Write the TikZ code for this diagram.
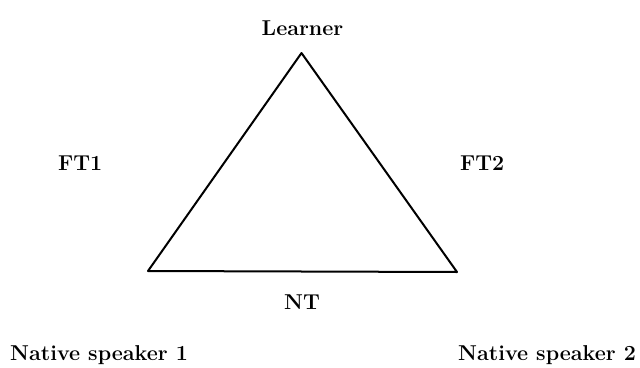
\documentclass[tikz,border=0pt]{standalone}
\begin{document}
\begin{tikzpicture}[x=1pt,y=-1pt,
  lbl/.style={font=\bfseries\fontsize{21.5}{24}\selectfont, inner sep=0pt},
  edge/.style={line width=2pt, line join=round, line cap=round}]
\useasboundingbox (0,0) rectangle (640,367);
\coordinate (L) at (301.5,53);
\coordinate (N1) at (148,271);
\coordinate (N2) at (457,272);
\draw[edge] (L) -- (N2) -- (N1) -- cycle;
\node[lbl, anchor=base] (learner) at (302.5,35) {Learner};
\node[lbl, anchor=base west] (ft1) at (58,170) {FT1};
\node[lbl, anchor=base west] (ft2) at (460,170) {FT2};
\node[lbl, anchor=base] (nt) at (302,309) {NT};
\node[lbl, anchor=base west] (ns1) at (10,360) {Native speaker 1};
\node[lbl, anchor=base west] (ns2) at (458,360) {Native speaker 2};
\end{tikzpicture}
\end{document}
